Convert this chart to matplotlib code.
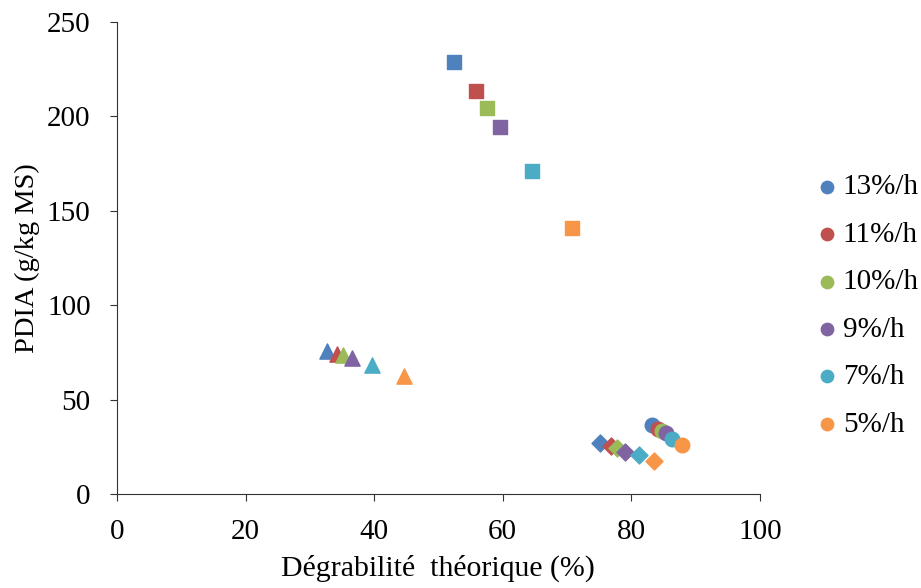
import matplotlib.pyplot as plt

plt.rcParams['font.family'] = ['Liberation Serif', 'DejaVu Serif']

# Taux de passage
labels = ['13%/h', '11%/h', '10%/h', '9%/h', '7%/h', '5%/h']
colors = ['#4F81BD', '#C0504D', '#9BBB59', '#8064A2', '#4BACC6', '#F79646']

# Série carrés
sq_x = [52.4, 55.8, 57.5, 59.6, 64.5, 70.8]
sq_y = [228.8, 213.5, 204.4, 194.4, 171.0, 140.9]
# Série triangles
tri_x = [32.6, 34.3, 35.2, 36.6, 39.6, 44.6]
tri_y = [75.5, 74.0, 73.5, 72.0, 68.3, 62.5]
# Série losanges
dia_x = [75.2, 76.8, 77.8, 79.0, 81.2, 83.5]
dia_y = [27.0, 25.2, 24.2, 22.2, 20.5, 17.5]
# Série cercles
cir_x = [83.3, 84.1, 84.8, 85.4, 86.4, 87.9]
cir_y = [36.5, 34.4, 33.4, 32.3, 29.1, 26.0]

fig = plt.figure(figsize=(9.21, 5.88), dpi=100)
ax = fig.add_axes([0.127, 0.16, 0.698, 0.8026])

for i in range(len(labels)):
    ax.scatter(sq_x[i], sq_y[i], marker='s', s=90, color=colors[i], zorder=3)
    ax.scatter(tri_x[i], tri_y[i], marker='^', s=120, color=colors[i], zorder=3)
    ax.scatter(dia_x[i], dia_y[i], marker='D', s=75, color=colors[i], zorder=3)
    ax.scatter(cir_x[i], cir_y[i], marker='o', s=110, color=colors[i], zorder=3,
               label=labels[i])

ax.set_xlim(0, 100)
ax.set_ylim(0, 250)
ax.set_xticks(range(0, 101, 20))
ax.set_yticks(range(0, 251, 50))
ax.spines['top'].set_visible(False)
ax.spines['right'].set_visible(False)
for s in ['left', 'bottom']:
    ax.spines[s].set_color('#333333')
ax.tick_params(axis='both', direction='out', length=5, color='#333333',
               labelsize=21)
ax.tick_params(axis='x', pad=13)
ax.tick_params(axis='y', pad=14)
ax.set_xlabel('Dégrabilité  théorique (%)', fontsize=21.5, labelpad=7)
ax.set_ylabel('PDIA (g/kg MS)', fontsize=20.5, labelpad=5)

ax.legend(loc='upper left', bbox_to_anchor=(0.885, 0.704),
          bbox_transform=fig.transFigure, frameon=False, borderpad=0,
          borderaxespad=0, fontsize=21, handlelength=0.8, handletextpad=0.15,
          labelspacing=0.72, markerscale=0.85)

fig.savefig('out.png', dpi=100)
